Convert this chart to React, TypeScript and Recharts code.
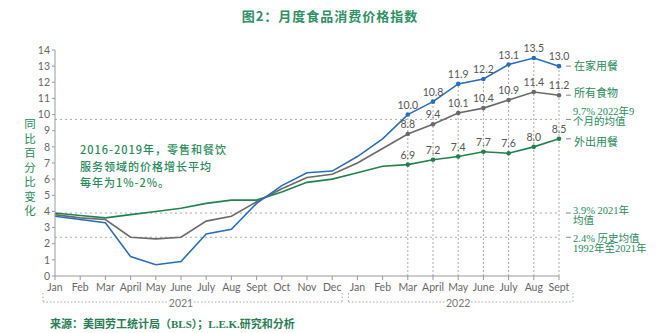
import { LineChart, Line, XAxis, YAxis, ReferenceLine, LabelList } from "recharts";

// monthly CPI food, yoy % change
const months = ["Jan", "Feb", "Mar", "April", "May", "June", "July", "Aug", "Sept", "Oct", "Nov", "Dec",
  "Jan", "Feb", "Mar", "April", "May", "June", "July", "Aug", "Sept"];
const years = [2021, 2021, 2021, 2021, 2021, 2021, 2021, 2021, 2021, 2021, 2021, 2021,
  2022, 2022, 2022, 2022, 2022, 2022, 2022, 2022, 2022];
const atHome = [3.7, 3.5, 3.3, 1.2, 0.7, 0.9, 2.6, 2.9, 4.5, 5.6, 6.4, 6.5, 7.4, 8.5, 10.0, 10.8, 11.9, 12.2, 13.1, 13.5, 13.0];
const allFood = [3.8, 3.6, 3.5, 2.4, 2.3, 2.4, 3.4, 3.7, 4.6, 5.4, 6.1, 6.3, 7.0, 7.9, 8.8, 9.4, 10.1, 10.4, 10.9, 11.4, 11.2];
const awayFromHome = [3.9, 3.75, 3.6, 3.8, 4.0, 4.2, 4.5, 4.7, 4.7, 5.2, 5.8, 6.0, 6.4, 6.8, 6.9, 7.2, 7.4, 7.7, 7.6, 8.0, 8.5];
const seriesNames = ["在家用餐", "所有食物", "外出用餐"];
const yTicks = [0, 1, 2, 3, 4, 5, 6, 7, 8, 9, 10, 11, 12, 13, 14];
const avgValues = [9.7, 3.9, 2.4];
const avgTexts = [["9.7% 2022年9", "个月的均值"], ["3.9% 2021年", "均值"], ["2.4% 历史均值", "1992年至2021年"]];
const yearLabels = ["2021", "2022"];
const labelFrom = 14; // values/dots shown from Mar 2022

const W = 660;
const H = 333;
const M = { top: 50, right: 101, bottom: 27, left: 30 };
const Y_W = 25;
const X_H = 30;
const plotL = M.left + Y_W;
const plotR = W - M.right;
const step = (plotR - plotL) / (months.length - 1);
const xAt = (i: number) => plotL + i * step;
const avgDy = [-7.5, -2.5, 1.5]; // first text line offset from each average line

const BLUE = "#2b6db8";
const GREY = "#6a6a6a";
const GREEN = "#22824f";
const TXT_GREEN = "#2a8a5c";
const CJK = "'Noto Sans CJK SC', sans-serif";
const SERIF = "'Liberation Serif', 'Noto Sans CJK SC', serif";
const NUM = "Lato, sans-serif";

const data = months.map((m, i) => ({
  key: `${m} ${years[i]}`,
  home: atHome[i],
  all: allFood[i],
  away: awayFromHome[i],
  homeLbl: i >= labelFrom ? atHome[i] : null,
  allLbl: i >= labelFrom ? allFood[i] : null,
  awayLbl: i >= labelFrom ? awayFromHome[i] : null,
  homeEnd: i === months.length - 1 ? seriesNames[0] : null,
  allEnd: i === months.length - 1 ? seriesNames[1] : null,
  awayEnd: i === months.length - 1 ? seriesNames[2] : null,
}));

const dotFn = (color: string) => (p: any) =>
  p.index >= labelFrom ? (
    <circle key={`d${p.index}`} cx={p.cx} cy={p.cy} r={2.3} fill={color} />
  ) : (
    <g key={`d${p.index}`} />
  );

const valueLabel = (p: any) => {
  if (p.value == null) return null;
  return (
    <text x={p.x} y={p.y - 6} textAnchor="middle" fontSize={10.5} fontFamily={NUM} fill="#555">
      {Number(p.value).toFixed(1)}
    </text>
  );
};

const endLabel = (dy: number) => (p: any) => {
  if (p.value == null) return null;
  return (
    <g>
      <line x1={p.x + 7} x2={p.x + 12} y1={p.y} y2={p.y} stroke="#888" strokeWidth={1} />
      <text x={p.x + 15} y={p.y + dy} dominantBaseline="central" fontSize={11} fontFamily={CJK} fill={TXT_GREEN}>
        {p.value}
      </text>
    </g>
  );
};

const avgLabel = (lines: string[], dy: number) => (p: any) => {
  const vb = p.viewBox || {};
  const right = (vb.x || 0) + (vb.width || 0);
  const y = vb.y || 0;
  return (
    <g>
      <line x1={right + 7} x2={right + 12} y1={y} y2={y} stroke="#888" strokeWidth={1} />
      {lines.map((t, k) => (
        <text key={k} x={right + 14} y={y + dy + k * 10} dominantBaseline="central" fontSize={10.5} fontFamily={SERIF} fill={TXT_GREEN}>
          {t}
        </text>
      ))}
    </g>
  );
};

const XTick = (p: any) => (
  <text x={p.x} y={p.y + 9} textAnchor="middle" fontSize={10.5} fontFamily={NUM} fill="#666">
    {months[p.index]}
  </text>
);

export default function App() {
  // year groups below the month labels
  const groups = [
    { from: 0, to: 11, mid: 5, padL: 12, padR: 10 },
    { from: 12, to: 20, mid: 16, padL: 9, padR: 14 },
  ];
  return (
    <div style={{ position: "absolute", left: 0, top: 0, width: W, height: H, background: "#fff" }}>
      <LineChart width={W} height={H} data={data} margin={M}>
        <XAxis
          dataKey="key"
          height={X_H}
          interval={0}
          tick={<XTick />}
          tickSize={4}
          stroke="#999"
          tickLine={{ stroke: "#999" }}
        />
        <YAxis
          width={Y_W}
          domain={[0, 14]}
          ticks={yTicks}
          interval={0}
          tickSize={3}
          stroke="#999"
          tick={{ fontSize: 10.5, fill: "#666", fontFamily: NUM }}
        />
        {avgValues.map((v, i) => (
          <ReferenceLine
            key={`avg${i}`}
            y={v}
            stroke="#aaa"
            strokeDasharray="2 3"
            ifOverflow="visible"
            label={avgLabel(avgTexts[i], avgDy[i])}
          />
        ))}
        {data.slice(labelFrom).map((d) => (
          <ReferenceLine
            key={`v${d.key}`}
            segment={[{ x: d.key, y: 0 }, { x: d.key, y: d.home }]}
            stroke="#aaa"
            strokeDasharray="2 2"
          />
        ))}
        <Line dataKey="away" stroke={GREEN} strokeWidth={1.6} dot={dotFn(GREEN)} activeDot={false} isAnimationActive={false}>
          <LabelList dataKey="awayLbl" content={valueLabel} />
          <LabelList dataKey="awayEnd" content={endLabel(2.5)} />
        </Line>
        <Line dataKey="all" stroke={GREY} strokeWidth={1.6} dot={dotFn(GREY)} activeDot={false} isAnimationActive={false}>
          <LabelList dataKey="allLbl" content={valueLabel} />
          <LabelList dataKey="allEnd" content={endLabel(-3)} />
        </Line>
        <Line dataKey="home" stroke={BLUE} strokeWidth={1.6} dot={dotFn(BLUE)} activeDot={false} isAnimationActive={false}>
          <LabelList dataKey="homeLbl" content={valueLabel} />
          <LabelList dataKey="homeEnd" content={endLabel(-1)} />
        </Line>
      </LineChart>
      <svg width={W} height={H} style={{ position: "absolute", left: 0, top: 0, pointerEvents: "none" }}>
        <text x={330} y={15} textAnchor="middle" dominantBaseline="central" fontSize={13} fontWeight={700} fontFamily={CJK} fill="#2f8f66" letterSpacing={1}>
          图2：月度食品消费价格指数
        </text>
        <text x={30} y={118} writingMode="tb" fontSize={11.5} fontFamily={CJK} fill={TXT_GREEN} letterSpacing={3}>
          同比百分比变化
        </text>
        {["2016-2019年，零售和餐饮", "服务领域的价格增长平均", "每年为1%-2%。"].map((t, i) => (
          <text key={i} x={80} y={149 + i * 16.5} dominantBaseline="central" fontSize={11} fontWeight={500} fontFamily={CJK} fill={TXT_GREEN} letterSpacing={1}>
            {t}
          </text>
        ))}
        {groups.map((g, i) => {
          const x1 = xAt(g.from) - g.padL;
          const x2 = xAt(g.to) + g.padR;
          const xm = xAt(g.mid);
          return (
            <g key={i} stroke="#aaa" strokeDasharray="1.5 2" strokeWidth={1}>
              <line x1={x1} x2={x1} y1={293} y2={302} />
              <line x1={x2} x2={x2} y1={293} y2={302} />
              <line x1={x1} x2={xm - 13} y1={302} y2={302} />
              <line x1={xm + 13} x2={x2} y1={302} y2={302} />
              <text x={xm} y={303} textAnchor="middle" dominantBaseline="central" fontSize={10.5} fontFamily={NUM} fill="#777" stroke="none">
                {yearLabels[i]}
              </text>
            </g>
          );
        })}
        <text x={50} y={324} dominantBaseline="central" fontSize={11} fontWeight={700} fontFamily={SERIF} fill="#2a7d55">
          来源：美国劳工统计局（BLS）；L.E.K.研究和分析
        </text>
      </svg>
    </div>
  );
}
